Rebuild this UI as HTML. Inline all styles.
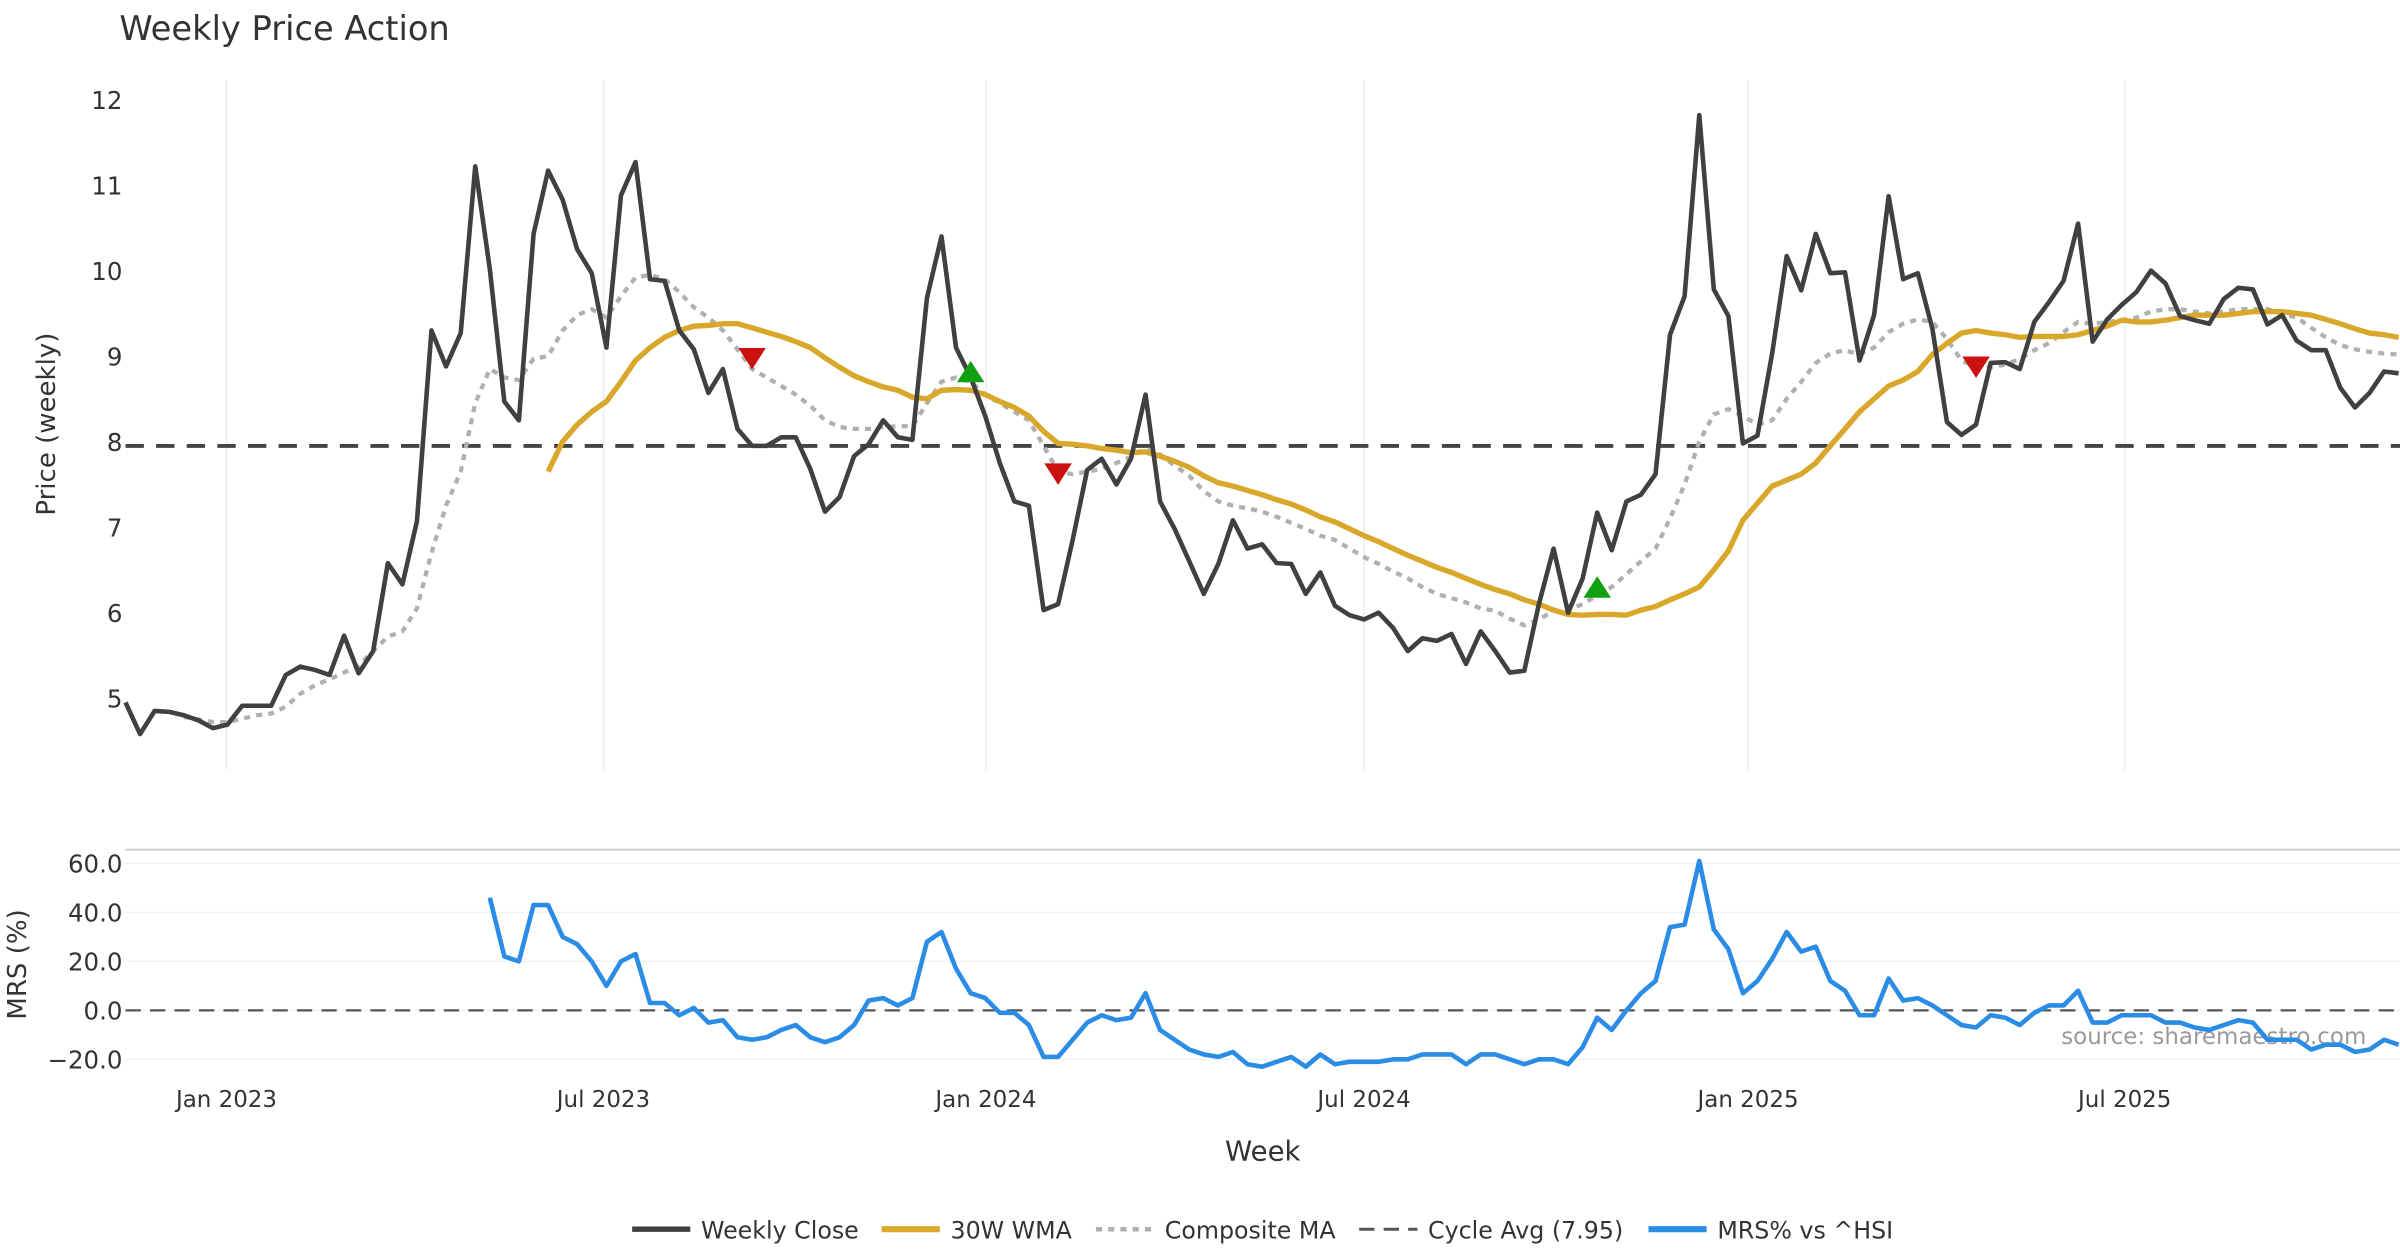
<!DOCTYPE html>
<html><head><meta charset="utf-8"><style>
html,body{margin:0;padding:0;background:#fff;}
svg{display:block;font-family:"DejaVu Sans","Liberation Sans",sans-serif;}
</style></head><body>
<svg id="chart" width="2400" height="1260" viewBox="0 0 1568 823" xmlns="http://www.w3.org/2000/svg">
<text x="78" y="26" font-size="22" fill="#333">Weekly Price Action</text>
<text x="0" y="0" font-size="17" fill="#333" text-anchor="middle" transform="translate(36,277) rotate(-90)">Price (weekly)</text>
<text x="0" y="0" font-size="17" fill="#333" text-anchor="middle" transform="translate(17,630) rotate(-90)">MRS (%)</text>
<text x="825" y="758" font-size="18" fill="#333" text-anchor="middle">Week</text>
<text x="1546" y="682" font-size="15" fill="#999" text-anchor="end">source: sharemaestro.com</text>
<g id="grid"></g><g id="main"></g><g id="sub"></g><g id="legend"></g>
</svg>
<script>
const closeVals=[4.95,4.58,4.85,4.84,4.80,4.74,4.65,4.69,4.91,4.91,4.91,5.27,5.37,5.33,5.27,5.73,5.29,5.55,6.58,6.33,7.07,9.30,8.88,9.27,11.22,10.02,8.47,8.25,10.43,11.17,10.83,10.25,9.97,9.10,10.88,11.27,9.90,9.88,9.30,9.08,8.57,8.85,8.15,7.95,7.95,8.05,8.05,7.68,7.18,7.35,7.83,7.97,8.25,8.05,8.02,9.68,10.40,9.10,8.75,8.30,7.75,7.30,7.25,6.03,6.10,6.85,7.67,7.80,7.50,7.80,8.55,7.30,6.98,6.60,6.22,6.57,7.08,6.75,6.80,6.58,6.57,6.22,6.47,6.08,5.97,5.92,6.00,5.82,5.55,5.70,5.67,5.75,5.40,5.78,5.55,5.30,5.32,6.10,6.75,6.00,6.40,7.17,6.73,7.30,7.38,7.62,9.25,9.70,11.82,9.78,9.47,7.98,8.07,9.03,10.17,9.77,10.43,9.97,9.98,8.95,9.48,10.87,9.90,9.97,9.32,8.23,8.08,8.20,8.92,8.93,8.85,9.40,9.63,9.88,10.55,9.17,9.43,9.60,9.75,10.00,9.85,9.47,9.42,9.38,9.67,9.80,9.78,9.37,9.48,9.18,9.07,9.07,8.63,8.40,8.57,8.82,8.80];
const wmaStart=29;
const wmaVals=[7.65,8.0,8.2,8.35,8.47,8.7,8.95,9.1,9.22,9.3,9.35,9.36,9.38,9.38,9.33,9.28,9.23,9.17,9.10,8.98,8.87,8.77,8.70,8.64,8.60,8.52,8.50,8.60,8.61,8.60,8.55,8.47,8.40,8.30,8.12,7.98,7.97,7.95,7.92,7.90,7.87,7.88,7.83,7.77,7.70,7.60,7.52,7.48,7.43,7.38,7.32,7.27,7.20,7.12,7.06,6.98,6.90,6.83,6.75,6.67,6.60,6.53,6.47,6.40,6.33,6.27,6.22,6.15,6.10,6.03,5.98,5.97,5.98,5.98,5.97,6.03,6.07,6.15,6.22,6.30,6.50,6.72,7.08,7.28,7.48,7.55,7.62,7.75,7.95,8.15,8.35,8.50,8.65,8.72,8.82,9.02,9.15,9.27,9.30,9.27,9.25,9.22,9.23,9.23,9.23,9.25,9.30,9.35,9.42,9.40,9.40,9.42,9.45,9.48,9.48,9.48,9.50,9.52,9.52,9.52,9.50,9.48,9.43,9.38,9.32,9.27,9.25,9.22];
const compStart=4;
const compVals=[4.78,4.75,4.72,4.72,4.76,4.80,4.82,4.90,5.05,5.15,5.22,5.30,5.38,5.55,5.72,5.78,6.05,6.70,7.25,7.65,8.45,8.85,8.75,8.72,8.97,9.0,9.30,9.48,9.55,9.45,9.70,9.92,9.95,9.90,9.75,9.57,9.45,9.30,9.08,8.85,8.75,8.65,8.55,8.42,8.25,8.17,8.15,8.15,8.17,8.18,8.18,8.45,8.70,8.75,8.70,8.55,8.45,8.35,8.25,7.95,7.65,7.62,7.65,7.68,7.75,7.82,7.92,7.85,7.72,7.60,7.42,7.30,7.25,7.22,7.18,7.12,7.05,6.98,6.90,6.85,6.75,6.65,6.57,6.48,6.40,6.30,6.22,6.17,6.12,6.05,6.02,5.93,5.85,5.92,6.02,6.03,6.10,6.20,6.30,6.45,6.60,6.75,7.10,7.50,8.00,8.32,8.38,8.30,8.20,8.25,8.50,8.70,8.92,9.03,9.07,9.02,9.10,9.28,9.38,9.43,9.40,9.20,8.95,8.87,8.87,8.90,8.97,9.07,9.15,9.28,9.40,9.38,9.40,9.42,9.45,9.52,9.55,9.55,9.52,9.50,9.52,9.55,9.55,9.55,9.50,9.45,9.33,9.22,9.13,9.08,9.05,9.03,9.02];
const mrsStart=25;
const mrsVals=[46,22,20,43,43,30,27,20,10,20,23,3,3,-2,1,-5,-4,-11,-12,-11,-8,-6,-11,-13,-11,-6,4,5,2,5,28,32,17,7,5,-1,-1,-6,-19,-19,-12,-5,-2,-4,-3,7,-8,-12,-16,-18,-19,-17,-22,-23,-21,-19,-23,-18,-22,-21,-21,-21,-20,-20,-18,-18,-18,-22,-18,-18,-20,-22,-20,-20,-22,-15,-3,-8,0,7,12,34,35,61,33,25,7,12,21,32,24,26,12,8,-2,-2,13,4,5,2,-2,-6,-7,-2,-3,-6,-1,2,2,8,-5,-5,-2,-2,-2,-5,-5,-7,-8,-6,-4,-5,-12,-12,-12,-16,-14,-14,-17,-16,-12,-14];
const cycleAvg=7.95;
const sellSignals=[[43,8.97],[64,7.62],[127,8.87]];
const buySignals=[[58,8.82],[101,6.30]];
const dateTickLabels=["Jan 2023","Jul 2023","Jan 2024","Jul 2024","Jan 2025","Jul 2025"];
const dateTickIdx=[6.93,32.8,59.05,85.0,111.35,137.2];
const priceTicks=[5,6,7,8,9,10,11,12];
const mrsTicks=[-20,0,20,40,60];

const NS="http://www.w3.org/2000/svg";
const X=i=>82+i*9.52;
const Y=v=>65+(12-v)*55.86;
const YM=v=>660-v*1.6;
function mk(parent,tag,attrs){const e=document.createElementNS(NS,tag);for(const k in attrs)e.setAttribute(k,attrs[k]);parent.appendChild(e);return e;}
const grid=document.getElementById('grid'),main=document.getElementById('main'),sub=document.getElementById('sub'),leg=document.getElementById('legend');

dateTickIdx.forEach((d,k)=>{
  const g=mk(grid,'line',{x1:X(d),x2:X(d),y1:52,y2:503,stroke:'#e8eef3','stroke-width':1});
  
  
  const t=mk(grid,'text',{x:X(d),y:723,'font-size':15,fill:'#333','text-anchor':'middle'});
  t.textContent=dateTickLabels[k];
  
  
});
priceTicks.forEach(v=>{
  const t=mk(grid,'text',{x:80,y:Y(v)+6,'font-size':16,fill:'#333','text-anchor':'end'});
  t.textContent=v;
  
  
});
mrsTicks.forEach(v=>{
  const l=mk(grid,'line',{x1:82,x2:1568,y1:YM(v),y2:YM(v),stroke:'#eef2f5','stroke-width':1});
  
  
  const t=mk(grid,'text',{x:80,y:YM(v)+6,'font-size':16,fill:'#333','text-anchor':'end'});
  t.textContent=(v<0?'\u2212'+(-v).toFixed(1):v.toFixed(1));
  
  
});
const sep=mk(grid,'line',{x1:82,x2:1568,y1:555,y2:555,stroke:'#ccc','stroke-width':1.2});



function path(parent,vals,start,yf,attrs,name){
  const d=vals.map((v,i)=>(i?'L':'M')+X(start+i).toFixed(1)+' '+yf(v).toFixed(1)).join(' ');
  const p=mk(parent,'path',Object.assign({d:d,fill:'none','stroke-linejoin':'round'},attrs));
  
  
}
const ca=mk(main,'line',{x1:82,x2:1568,y1:Y(cycleAvg),y2:Y(cycleAvg),stroke:'#444','stroke-width':2.5,'stroke-dasharray':'12 8'});


path(main,compVals,compStart,Y,{stroke:'#b0b0b0','stroke-width':2.8,'stroke-dasharray':'4 4'},'composite-ma-line');
path(main,wmaVals,wmaStart,Y,{stroke:'#d9a72a','stroke-width':3.5},'wma-line');
path(main,closeVals,0,Y,{stroke:'#404040','stroke-width':3},'weekly-close-line');
sellSignals.forEach(s=>{
  const x=X(s[0]),y=Y(s[1]);
  const p=mk(main,'polygon',{points:`${x-9},${y-7} ${x+9},${y-7} ${x},${y+7}`,fill:'#cc1111'});
  
  
});
buySignals.forEach(s=>{
  const x=X(s[0]),y=Y(s[1]);
  const p=mk(main,'polygon',{points:`${x-9},${y+7} ${x+9},${y+7} ${x},${y-7}`,fill:'#11a011'});
  
  
});
const z=mk(sub,'line',{x1:82,x2:1568,y1:YM(0),y2:YM(0),stroke:'#555','stroke-width':1.5,'stroke-dasharray':'10 6'});


path(sub,mrsVals,mrsStart,YM,{stroke:'#2b8ce6','stroke-width':3},'mrs-line');

const legItems=[["Weekly Close",{stroke:'#404040','stroke-width':3.5}],["30W WMA",{stroke:'#d9a72a','stroke-width':4}],["Composite MA",{stroke:'#b0b0b0','stroke-width':3,'stroke-dasharray':'4 4'}],["Cycle Avg (7.95)",{stroke:'#555','stroke-width':2,'stroke-dasharray':'10 6'}],["MRS% vs ^HSI",{stroke:'#2b8ce6','stroke-width':4}]];
const legX=[413,576,716,888,1077];
legItems.forEach((it,k)=>{
  const g=mk(leg,'g',{});
  
  
  mk(g,'line',Object.assign({x1:legX[k],x2:legX[k]+38,y1:803,y2:803},it[1]));
  const t=mk(g,'text',{x:legX[k]+45,y:809,'font-size':15.5,fill:'#333'});
  t.textContent=it[0];
});
</script>
</body></html>
